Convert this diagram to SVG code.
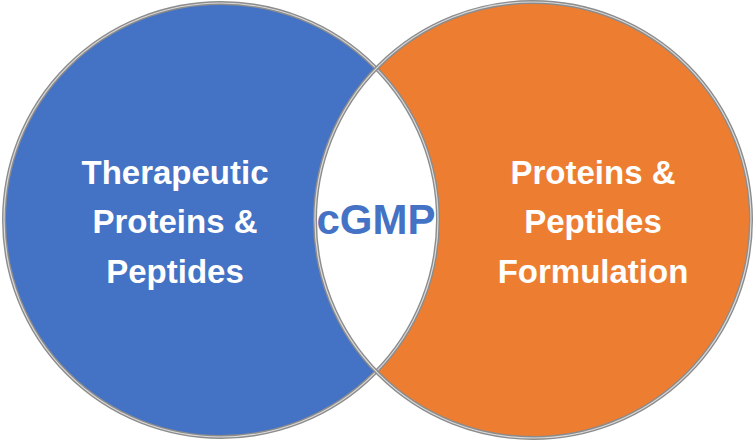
<svg xmlns="http://www.w3.org/2000/svg" width="755" height="441" viewBox="0 0 755 441">
<style>
.t{font-family:"Liberation Sans",Arial,sans-serif;font-weight:bold;font-size:33px;fill:#fff;text-anchor:middle}
.ring{fill:none;stroke:#8c8c8c;stroke-width:4}
.ring2{fill:none;stroke:#d9d9d9;stroke-width:1.2}
</style>
<defs><clipPath id="cl"><circle cx="221" cy="220" r="217"/></clipPath></defs>
<g id="left"><circle cx="221" cy="220" r="217" fill="#4472C4"/></g>
<g id="right"><circle cx="533" cy="220" r="218" fill="#ED7D31"/></g>
<g id="overlap"><circle cx="533" cy="220" r="218" fill="#fff" clip-path="url(#cl)"/></g>
<g id="rings">
<circle class="ring" cx="221" cy="220" r="217"/><circle class="ring2" cx="221" cy="220" r="217"/>
<circle class="ring" cx="533" cy="220" r="218"/><circle class="ring2" cx="533" cy="220" r="218"/>
</g>
<g id="left-label"><text class="t" x="175" y="184">Therapeutic</text><text class="t" x="175" y="233">Proteins &amp;</text><text class="t" x="175" y="283">Peptides</text></g>
<g id="right-label"><text class="t" x="593" y="184">Proteins &amp;</text><text class="t" x="593" y="233">Peptides</text><text class="t" x="593" y="283">Formulation</text></g>
<g id="center-label"><text x="376" y="234" style="font-family:'Liberation Sans',Arial,sans-serif;font-weight:bold;font-size:42px;fill:#4472C4;text-anchor:middle">cGMP</text></g>
</svg>
